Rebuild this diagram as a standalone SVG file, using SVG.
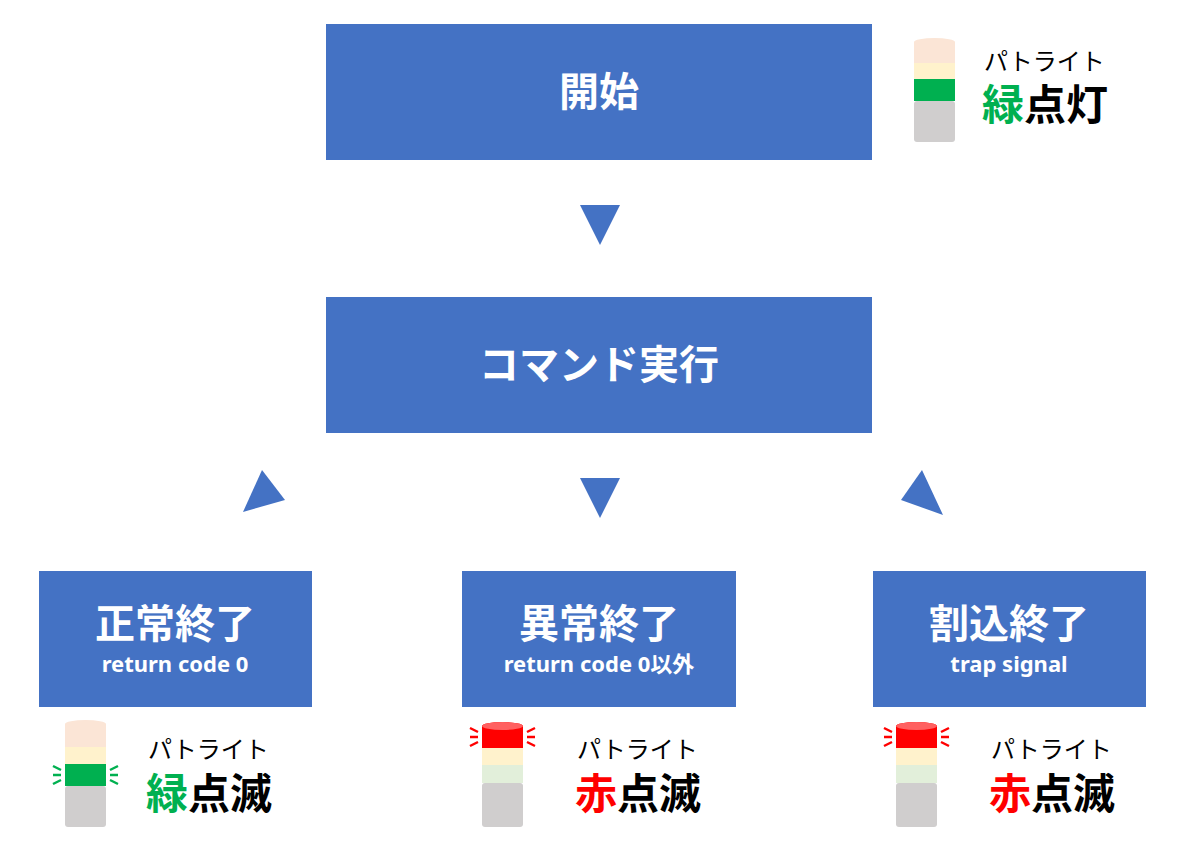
<svg xmlns="http://www.w3.org/2000/svg" width="1200" height="862" viewBox="0 0 1200 862">
<style>
.box{fill:#4472C4}
.t{font-family:"Noto Sans CJK JP","Noto Sans",sans-serif;font-weight:bold;fill:#fff;text-anchor:middle}
.s{font-family:"Noto Sans","Noto Sans CJK JP",sans-serif;font-weight:bold;fill:#fff;text-anchor:middle;font-size:22px}
.p{font-family:"Noto Sans CJK JP",sans-serif;font-size:24px;fill:#000}
.b{font-family:"Noto Sans CJK JP",sans-serif;font-size:42px;font-weight:bold;fill:#000}
.tri{fill:#4472C4}
.ray{stroke-width:2.5;fill:none}
</style>
<rect width="1200" height="862" fill="#fff"/>
<g id="start"><rect class="box" x="326" y="24" width="546" height="136"/><text class="t" x="599" y="106" font-size="40">開始</text></g>
<g id="exec"><rect class="box" x="326" y="297" width="546" height="136"/><text class="t" x="599" y="379" font-size="40">コマンド実行</text></g>
<g id="normal"><rect class="box" x="39" y="571" width="273" height="136"/><text class="t" x="175" y="638" font-size="40">正常終了</text><text class="s" x="175" y="672">return code 0</text></g>
<g id="abnormal"><rect class="box" x="462" y="571" width="274" height="136"/><text class="t" x="599" y="638" font-size="40">異常終了</text><text class="s" x="599" y="672">return code 0以外</text></g>
<g id="interrupt"><rect class="box" x="873" y="571" width="273" height="136"/><text class="t" x="1009" y="638" font-size="40">割込終了</text><text class="s" x="1009" y="672">trap signal</text></g>
<g id="connectors">
<polygon class="tri" points="580,205 620,205 600,245"/>
<polygon class="tri" points="580,478 620,478 600,518"/>
<polygon class="tri" points="243,512 285,500 262,470"/>
<polygon class="tri" points="943,515 901,500 922,470"/>
</g>
<g id="light-start">
<rect x="914" y="101" width="41" height="41" rx="3" fill="#d0cece"/>
<rect x="914" y="79" width="41" height="22" fill="#00b050"/>
<rect x="914" y="63" width="41" height="16" fill="#fff2cc"/>
<path d="M914,42 a20.5,4 0 0 1 41,0 V63 H914 Z" fill="#fbe5d6"/>
<text class="p" x="984" y="70">パトライト</text>
<text class="b" x="982" y="120"><tspan fill="#00b050">緑</tspan>点灯</text>
</g>
<g id="light-normal">
<rect x="65" y="786" width="41" height="41" rx="3" fill="#d0cece"/>
<rect x="65" y="764" width="41" height="22" fill="#00b050"/>
<rect x="65" y="747" width="41" height="17" fill="#fff2cc"/>
<path d="M65,724 a20.5,4 0 0 1 41,0 V747 H65 Z" fill="#fbe5d6"/>
<g class="ray" stroke="#00b050"><path d="M53,766 L61,770 M53,775 H61 M53,784 L61,780 M118,766 L110,770 M118,775 H110 M118,784 L110,780"/></g>
<text class="p" x="148" y="758">パトライト</text>
<text class="b" x="146" y="809"><tspan fill="#00b050">緑</tspan>点滅</text>
</g>
<g id="light-abnormal">
<rect x="482" y="783" width="41" height="44" rx="3" fill="#d0cece"/>
<rect x="482" y="765" width="41" height="18" fill="#e2efda"/>
<rect x="482" y="748" width="41" height="17" fill="#fff2cc"/>
<path d="M482,726 a20.5,4 0 0 1 41,0 V748 H482 Z" fill="#ff0000"/>
<ellipse cx="502.5" cy="726" rx="20.5" ry="4" fill="#ff6060"/>
<g class="ray" stroke="#ff0000"><path d="M470,728 L478,732 M470,737 H478 M470,746 L478,742 M535,728 L527,732 M535,737 H527 M535,746 L527,742"/></g>
<text class="p" x="577" y="758">パトライト</text>
<text class="b" x="575" y="809"><tspan fill="#ff0000">赤</tspan>点滅</text>
</g>
<g id="light-interrupt">
<rect x="896" y="783" width="41" height="44" rx="3" fill="#d0cece"/>
<rect x="896" y="765" width="41" height="18" fill="#e2efda"/>
<rect x="896" y="748" width="41" height="17" fill="#fff2cc"/>
<path d="M896,726 a20.5,4 0 0 1 41,0 V748 H896 Z" fill="#ff0000"/>
<ellipse cx="916.5" cy="726" rx="20.5" ry="4" fill="#ff6060"/>
<g class="ray" stroke="#ff0000"><path d="M884,728 L892,732 M884,737 H892 M884,746 L892,742 M949,728 L941,732 M949,737 H941 M949,746 L941,742"/></g>
<text class="p" x="991" y="758">パトライト</text>
<text class="b" x="989" y="809"><tspan fill="#ff0000">赤</tspan>点滅</text>
</g>
</svg>
